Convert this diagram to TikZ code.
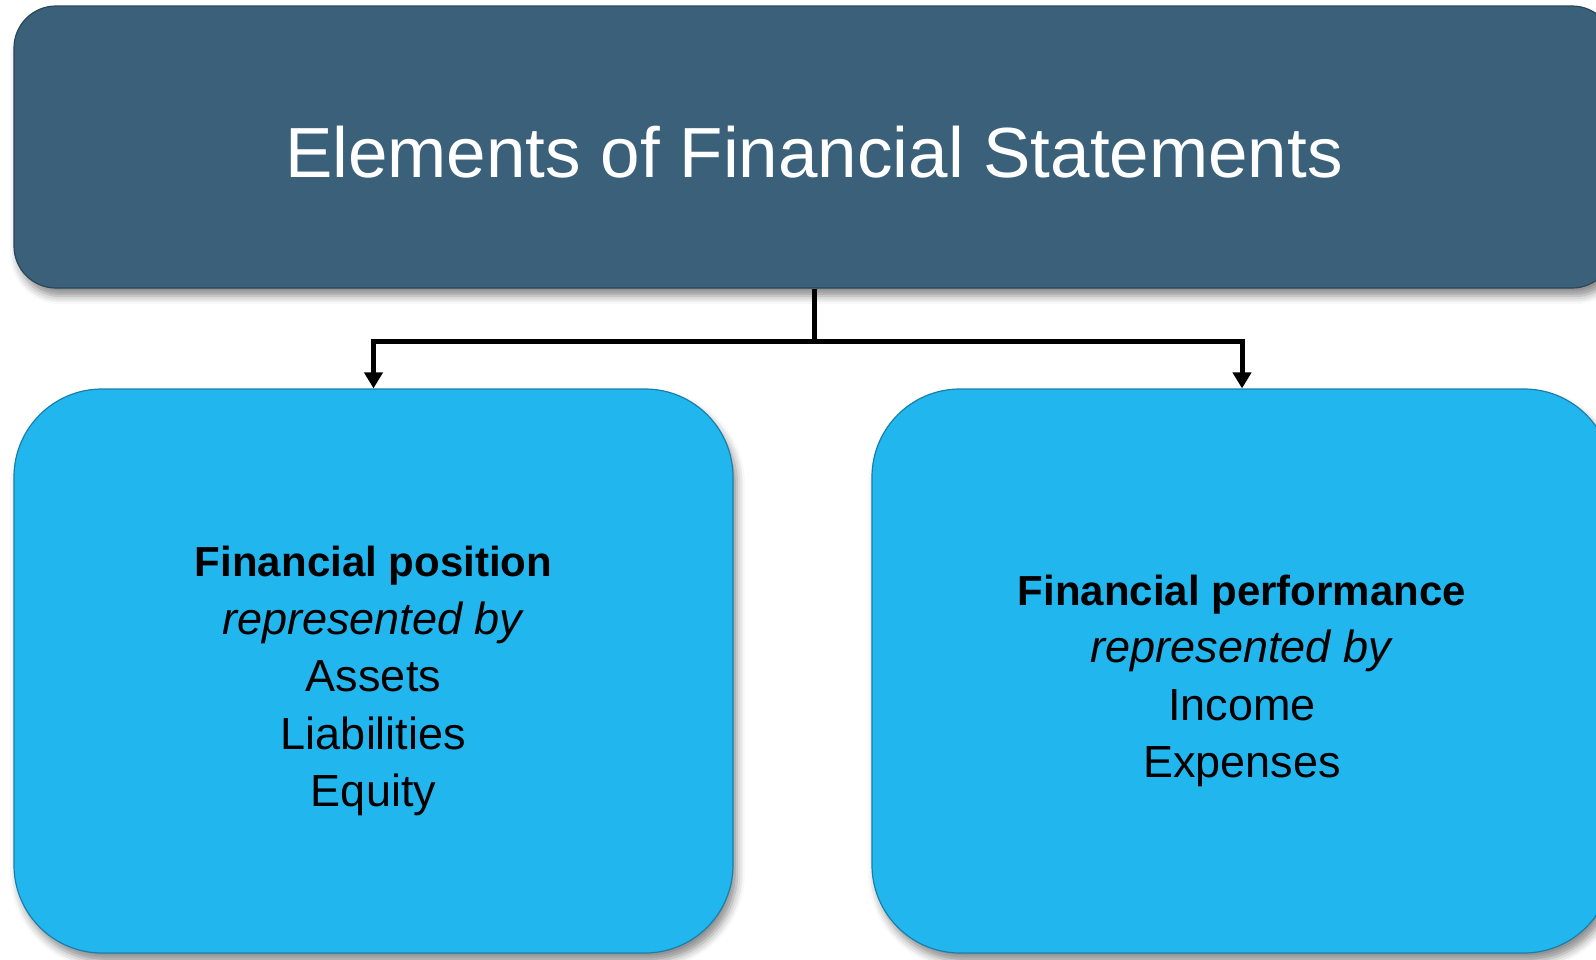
\documentclass[tikz,border=0pt]{standalone}
\usepackage{fontspec}
\setmainfont{Liberation Sans}
\usetikzlibrary{arrows.meta,shadows.blur}
\definecolor{topfill}{HTML}{3A6179}
\definecolor{topedge}{HTML}{2A4659}
\definecolor{boxfill}{HTML}{22B6EF}
\definecolor{boxedge}{HTML}{1A7FA8}
\tikzset{
  topbox/.style={draw=topedge, line width=1.2pt, fill=topfill, rounded corners=42pt,
    minimum width=1600pt, minimum height=282pt, inner sep=0pt,
    blur shadow={shadow xshift=4pt, shadow yshift=-8pt, shadow blur radius=8pt, shadow opacity=45}},
  subbox/.style={draw=boxedge, line width=1.2pt, fill=boxfill, rounded corners=88pt,
    minimum height=564pt, inner sep=0pt,
    blur shadow={shadow xshift=4pt, shadow yshift=-8pt, shadow blur radius=8pt, shadow opacity=45}},
  bodytext/.style={align=center, font=\fontsize{45}{57.5}\selectfont, text=black, inner sep=0pt},
  link/.style={line width=5pt, draw=black},
  linkarrow/.style={link, -{Triangle[width=18pt,length=16pt]}},
}
\newcommand{\headline}[1]{{\fontsize{42}{57.5}\selectfont\bfseries #1}}
\begin{document}
\begin{tikzpicture}[x=1pt,y=-1pt]
\useasboundingbox (0,0) rectangle (1596,959);
\begin{scope}
\clip (0,0) rectangle (1596,959);
\node[topbox] (top) at (814,147) {};
\node[subbox, minimum width=719pt] (left) at (373.5,671) {};
\node[subbox, minimum width=740pt] (right) at (1242,671) {};
\node[text=white, inner sep=0pt, font=\fontsize{71}{80}\selectfont] (title) at (814,152) {Elements of Financial Statements};
\node[bodytext] (lefttext) at (373.5,681) {\headline{Financial position}\\\textit{represented by}\\Assets\\Liabilities\\Equity};
\node[bodytext] (righttext) at (1242,681) {\headline{Financial performance}\\\textit{represented by}\\Income\\Expenses};
\draw[link] (top.south) -- ++(0,53) coordinate (junction);
\draw[linkarrow] ([xshift=2.5pt]junction) -| (left.north);
\draw[linkarrow] ([xshift=-2.5pt]junction) -| (right.north);
\end{scope}
\end{tikzpicture}
\end{document}
